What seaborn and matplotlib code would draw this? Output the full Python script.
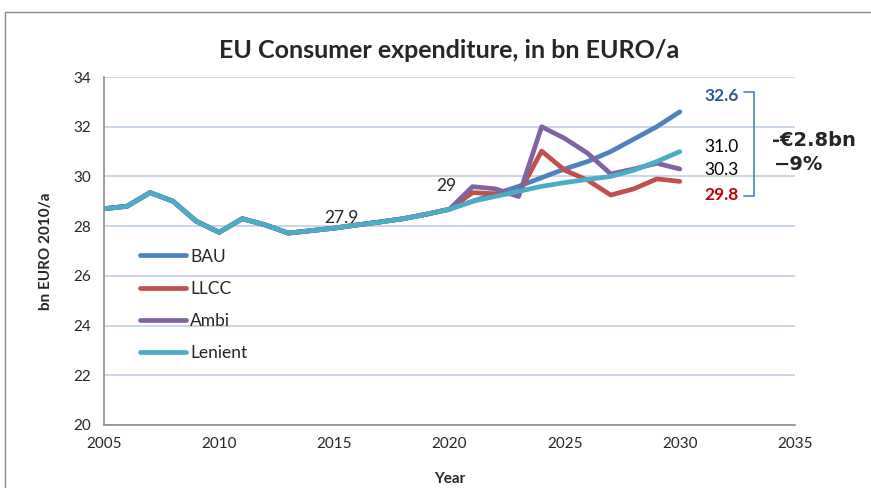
import matplotlib
matplotlib.use("Agg")
import matplotlib.pyplot as plt
from matplotlib.lines import Line2D
import numpy as np
import pandas as pd
import seaborn as sns

# -- data --------------------------------------------------------------------

YEARS_HIST = list(range(2005, 2021))
HIST = [28.70, 28.80, 29.35, 29.00, 28.20, 27.75, 28.30, 28.05, 27.72,
        27.82, 27.92, 28.05, 28.17, 28.30, 28.48, 28.68]

YEARS_PROJ = list(range(2021, 2031))
BAU = [29.00, 29.30, 29.60, 29.95, 30.30, 30.60, 31.00, 31.50, 32.00, 32.60]
LLCC = [29.35, 29.30, 29.30, 31.02, 30.25, 29.85, 29.25, 29.50, 29.90, 29.80]
AMBI = [29.59, 29.50, 29.19, 32.00, 31.53, 30.93, 30.10, 30.30, 30.53, 30.30]
LENIENT = [29.00, 29.20, 29.40, 29.60, 29.75, 29.88, 30.00, 30.25, 30.60, 31.00]

SCENARIOS = ["BAU", "LLCC", "Ambi", "Lenient"]
PROJ = {"BAU": BAU, "LLCC": LLCC, "Ambi": AMBI, "Lenient": LENIENT}
END_LABELS = ["32.6", "31.0", "30.3", "29.8"]

COLORS = {"BAU": "#4F81BD", "LLCC": "#C0504D", "Ambi": "#8064A2",
          "Lenient": "#4BACC6"}

# -- build long table --------------------------------------------------------

rows = []
for name in SCENARIOS:
    for y, v in zip(YEARS_HIST + YEARS_PROJ, HIST + PROJ[name]):
        rows.append({"Year": y, "value": v, "Scenario": name})
df = pd.DataFrame(rows)

# -- plot --------------------------------------------------------------------

sns.set_style("white")
plt.rcParams["font.family"] = ["Lato", "DejaVu Sans"]

fig = plt.figure(figsize=(8.71, 4.88), dpi=100)
ax = fig.add_axes([104 / 871, 1 - 425 / 488, 691 / 871, 348 / 488])

sns.lineplot(data=df, x="Year", y="value", hue="Scenario",
             hue_order=SCENARIOS, palette=COLORS, linewidth=3.4,
             ax=ax, legend=True)
for ln in ax.lines:
    ln.set_solid_capstyle("round")
    ln.set_solid_joinstyle("round")

ax.set_xlim(2005, 2035)
ax.set_ylim(20, 34)
ax.set_xticks(range(2005, 2040, 5))
ax.set_yticks(range(20, 36, 2))
ax.grid(True, axis="y", color="#C5D3E6", linewidth=1.3)
ax.set_axisbelow(True)
for s in ["top", "right"]:
    ax.spines[s].set_visible(False)
for s in ["left", "bottom"]:
    ax.spines[s].set_color("#8C8C8C")
    ax.spines[s].set_linewidth(1.2)
ax.tick_params(axis="both", direction="out", length=5, width=1,
               color="#8C8C8C", labelsize=11, pad=4)

ax.set_xlabel("Year", fontsize=11, fontweight="bold", labelpad=15)
ax.set_ylabel("bn EURO 2010/a", fontsize=11, fontweight="bold", labelpad=15)
ax.set_title("EU Consumer expenditure, in bn EURO/a", fontsize=18,
             fontweight="bold", pad=14)

leg = ax.legend(loc="upper left", bbox_to_anchor=(0.052, 0.507),
                frameon=False, fontsize=12.5, handlelength=2.65,
                handletextpad=0.25, labelspacing=0.93, borderaxespad=0,
                borderpad=0)
for h in leg.get_lines():
    h.set_linewidth(3.4)
    h.set_solid_capstyle("round")

# point labels
ax.text(2015.3, 28.0, "27.9", fontsize=12.5, ha="center", va="bottom")
ax.text(2019.85, 29.3, "29", fontsize=12.5, ha="center", va="bottom")

label_y = [33.25, 31.2, 30.25, 29.25]
label_style = [("#2E5597", "bold"), ("black", "normal"),
               ("black", "normal"), ("#C00000", "bold")]
for txt, yy, (c, w) in zip(END_LABELS, label_y, label_style):
    ax.text(2031.8, yy, txt, fontsize=12.5, color=c, fontweight=w,
            ha="center", va="center")

# bracket
bx0, bx1 = 2032.8, 2033.2
btop, bbot = 33.4, 29.2
ax.plot([bx0, bx1, bx1, bx0], [btop, btop, bbot, bbot], color="#4F81BD",
        linewidth=1.2, clip_on=False)
ax.text(2034.0, 31.45, "-€2.8bn", fontsize=14, fontweight="bold",
        family="DejaVu Sans", ha="left", va="center", clip_on=False)
ax.text(2034.1, 30.5, "\u22129%", fontsize=14, fontweight="bold",
        family="DejaVu Sans", ha="left", va="center", clip_on=False)

# outer chart frame
fig.add_artist(Line2D([5 / 871, 1.0], [1 - 12 / 488, 1 - 12 / 488],
                      color="#8C8C8C", linewidth=1.0))
fig.add_artist(Line2D([5 / 871, 5 / 871], [0.0, 1 - 12 / 488],
                      color="#8C8C8C", linewidth=1.0))

fig.savefig("out.png", dpi=100)
